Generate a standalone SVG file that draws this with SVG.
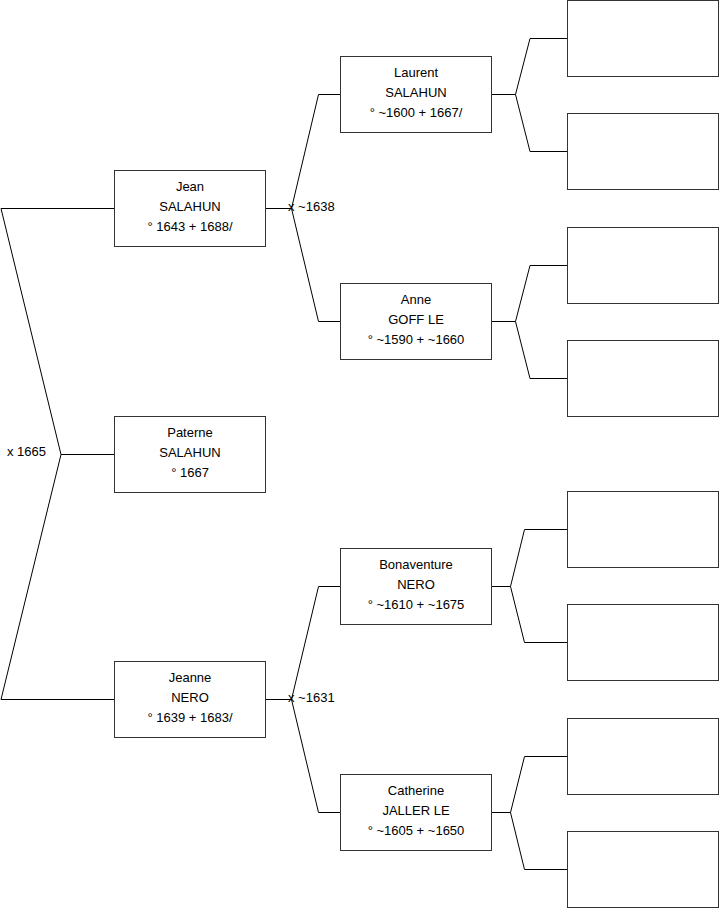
<svg xmlns="http://www.w3.org/2000/svg" width="719" height="908" viewBox="0 0 719 908">
<style>
.box{fill:#fff;stroke:#333;stroke-width:1}
.ln{fill:none;stroke:#000;stroke-width:1}
text{font-family:"Liberation Sans",Arial,sans-serif;font-size:13px;fill:#000}
.c{text-anchor:middle}
</style>
<rect width="719" height="908" fill="#fff"/>
<g id="connectors" class="ln">
<path d="M114.5 208.5 H1 L61 454.5 H114.5 M61 454.5 L1 699.5 H114.5"/>
<path d="M265.5 208.5 H291.5 M340.5 94.5 H318.5 L291.5 208.5 L318.5 321.5 H340.5"/>
<path d="M265.5 699.5 H291.5 M340.5 586.5 H318.5 L291.5 699.5 L318.5 812.5 H340.5"/>
<path d="M491.5 94.5 H515.5 M567.5 38.5 H530 L515.5 94.5 L530 151.5 H567.5"/>
<path d="M491.5 321.5 H515.5 M567.5 265.5 H530 L515.5 321.5 L530 378.5 H567.5"/>
<path d="M491.5 586.5 H510.5 M567.5 529.5 H524.5 L510.5 586.5 L524.5 642.5 H567.5"/>
<path d="M491.5 812.5 H510.5 M567.5 756.5 H524.5 L510.5 812.5 L524.5 869.5 H567.5"/>
</g>
<g id="labels">
<text x="7" y="456">x 1665</text>
<text x="288" y="211">x ~1638</text>
<text x="288" y="702">x ~1631</text>
</g>
<g id="jean"><rect class="box" x="114.5" y="170.5" width="151" height="76"/>
<text class="c" x="190" y="191">Jean</text><text class="c" x="190" y="211">SALAHUN</text><text class="c" x="190" y="231">° 1643 + 1688/</text></g>
<g id="paterne"><rect class="box" x="114.5" y="416.5" width="151" height="76"/>
<text class="c" x="190" y="437">Paterne</text><text class="c" x="190" y="457">SALAHUN</text><text class="c" x="190" y="477">° 1667</text></g>
<g id="jeanne"><rect class="box" x="114.5" y="661.5" width="151" height="76"/>
<text class="c" x="190" y="682">Jeanne</text><text class="c" x="190" y="702">NERO</text><text class="c" x="190" y="722">° 1639 + 1683/</text></g>
<g id="laurent"><rect class="box" x="340.5" y="56.5" width="151" height="76"/>
<text class="c" x="416" y="77">Laurent</text><text class="c" x="416" y="97">SALAHUN</text><text class="c" x="416" y="117">° ~1600 + 1667/</text></g>
<g id="anne"><rect class="box" x="340.5" y="283.5" width="151" height="76"/>
<text class="c" x="416" y="304">Anne</text><text class="c" x="416" y="324">GOFF LE</text><text class="c" x="416" y="344">° ~1590 + ~1660</text></g>
<g id="bonaventure"><rect class="box" x="340.5" y="548.5" width="151" height="76"/>
<text class="c" x="416" y="569">Bonaventure</text><text class="c" x="416" y="589">NERO</text><text class="c" x="416" y="609">° ~1610 + ~1675</text></g>
<g id="catherine"><rect class="box" x="340.5" y="774.5" width="151" height="76"/>
<text class="c" x="416" y="795">Catherine</text><text class="c" x="416" y="815">JALLER LE</text><text class="c" x="416" y="835">° ~1605 + ~1650</text></g>
<g id="empty1"><rect class="box" x="567.5" y="0.5" width="151" height="76"/></g>
<g id="empty2"><rect class="box" x="567.5" y="113.5" width="151" height="76"/></g>
<g id="empty3"><rect class="box" x="567.5" y="227.5" width="151" height="76"/></g>
<g id="empty4"><rect class="box" x="567.5" y="340.5" width="151" height="76"/></g>
<g id="empty5"><rect class="box" x="567.5" y="491.5" width="151" height="76"/></g>
<g id="empty6"><rect class="box" x="567.5" y="604.5" width="151" height="76"/></g>
<g id="empty7"><rect class="box" x="567.5" y="718.5" width="151" height="76"/></g>
<g id="empty8"><rect class="box" x="567.5" y="831.5" width="151" height="76"/></g>
</svg>
